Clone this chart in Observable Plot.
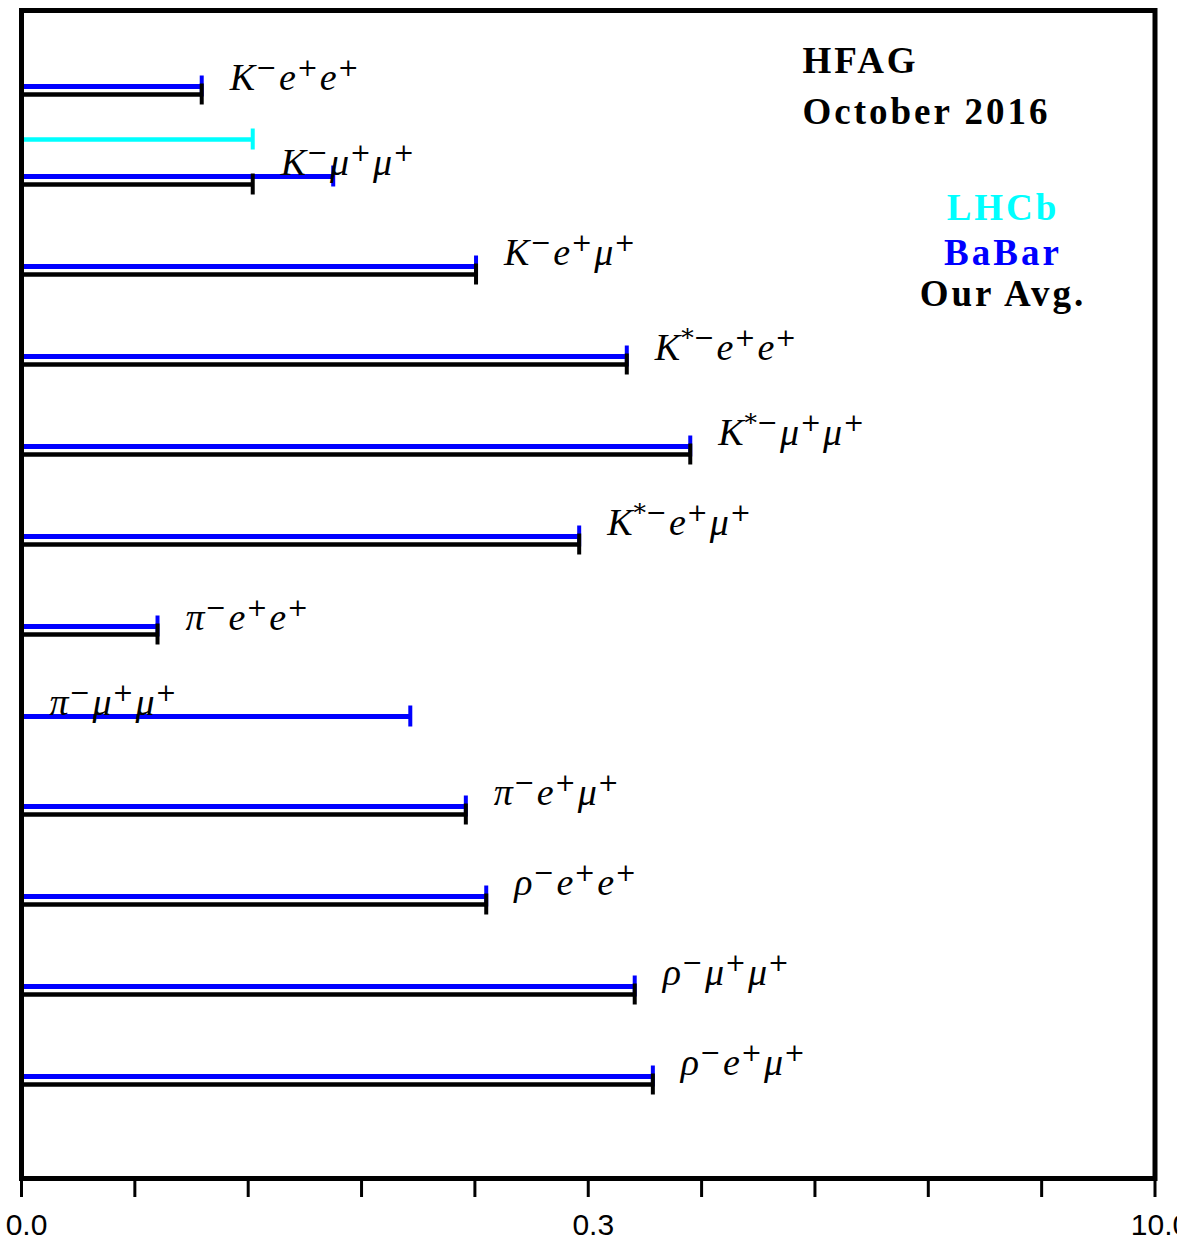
<!DOCTYPE html>
<html><head><meta charset="utf-8">
<script src="https://cdn.jsdelivr.net/npm/d3@7"></script>
<script src="https://cdn.jsdelivr.net/npm/@observablehq/plot@0.6"></script>
<style>
html,body{margin:0;padding:0;background:#fff;overflow:hidden}
</style>
</head><body><div id="chart"></div>
<script>
// ---- data ----
const decays = [
  "K^{\u2212}e^{+}e^{+}",
  "K^{\u2212}\u03bc^{+}\u03bc^{+}",
  "K^{\u2212}e^{+}\u03bc^{+}",
  "K^{*\u2212}e^{+}e^{+}",
  "K^{*\u2212}\u03bc^{+}\u03bc^{+}",
  "K^{*\u2212}e^{+}\u03bc^{+}",
  "\u03c0^{\u2212}e^{+}e^{+}",
  "\u03c0^{\u2212}\u03bc^{+}\u03bc^{+}",
  "\u03c0^{\u2212}e^{+}\u03bc^{+}",
  "\u03c1^{\u2212}e^{+}e^{+}",
  "\u03c1^{\u2212}\u03bc^{+}\u03bc^{+}",
  "\u03c1^{\u2212}e^{+}\u03bc^{+}"
];
const lhcb    = [null, 2.04, null, null, null, null, null, 0.0, null, null, null, null];
const babar   = [1.59, 2.75, 4.01, 5.34, 5.90, 4.92, 1.20, 3.43, 3.92, 4.10, 5.41, 5.57];
const average = [1.59, 2.04, 4.01, 5.34, 5.90, 4.92, 1.20, 0.0, 3.92, 4.10, 5.41, 5.57];
const xTicks = [0, 1, 2, 3, 4, 5, 6, 7, 8, 9, 10];
const xTickLabels = ["0.0", "", "", "", "", "0.3", "", "", "", "", "10.0"];
const titleLines = ["HFAG", "October 2016"];
const legendNames = ["LHCb", "BaBar", "Our Avg."];
const legendColors = ["#00ffff", "#0000ff", "#000000"];

// ---- build ----
const rows = decays.map((d, i) => ({decay: d, lhcb: lhcb[i], babar: babar[i], avg: average[i]}));
const lhcbRows = rows.filter(d => d.lhcb != null);
const descender = /[\u03bc\u03c1]/;
const serif = "Liberation Serif";

function series(data, key, color, dy, w) {
  return [
    Plot.ruleY(data, {y: "decay", x1: 0, x2: key, dy, stroke: color, strokeWidth: w}),
    Plot.tickX(data, {x: key, y: "decay", dy, insetTop: 34.5, insetBottom: 34.5, stroke: color, strokeWidth: 4})
  ];
}

const labelOpts = {x: "avg", y: "decay", text: "decay", dx: 26, textAnchor: "start", lineAnchor: "bottom",
  fontSize: 38, fontFamily: serif, fontStyle: "italic", fill: "black"};

const chart = Plot.plot({
  width: 1177, height: 1243,
  marginLeft: 21, marginRight: 22.5, marginTop: 10, marginBottom: 65,
  style: {fontFamily: "Liberation Sans", fontSize: "30px", background: "white", color: "black"},
  x: {domain: [0, 10], axis: null},
  y: {type: "band", domain: decays, range: [41.2, 1129], padding: 0, axis: null},
  marks: [
    ...series(lhcbRows, "lhcb", legendColors[0], -41, 4.5),
    ...series(rows, "babar", legendColors[1], -4, 5),
    ...series(rows, "avg", legendColors[2], 4, 4.5),
    Plot.text(rows.filter(d => !descender.test(d.decay)), {...labelOpts, dy: -1}),
    Plot.text(rows.filter(d => descender.test(d.decay)), {...labelOpts, dy: -6}),
    Plot.axisX({ticks: xTicks, tickFormat: () => "", tickSize: 19, strokeWidth: 3, stroke: "black"}),
    Plot.axisX({ticks: xTicks, tickFormat: d => xTickLabels[xTicks.indexOf(d)], tickSize: 0, tickPadding: 35,
      fontSize: 30, fontFamily: "Liberation Sans", fill: "black", dx: 5}),
    Plot.frame({stroke: "black", strokeWidth: 5}),
    Plot.text([titleLines[0]], {text: d => d, frameAnchor: "top-left", dx: 781, dy: 62, textAnchor: "start",
      lineAnchor: "bottom", fontSize: 37, fontWeight: "bold", fontFamily: serif, fill: "black"}),
    Plot.text([titleLines[1]], {text: d => d, frameAnchor: "top-left", dx: 781, dy: 113, textAnchor: "start",
      lineAnchor: "bottom", fontSize: 37, fontWeight: "bold", fontFamily: serif, fill: "black"}),
    ...legendNames.map((name, i) => Plot.text([name], {text: d => d, frameAnchor: "top-right",
      dx: -152, dy: [209, 254, 295][i], textAnchor: "middle", lineAnchor: "bottom",
      fontSize: 37, fontWeight: "bold", fontFamily: serif, fill: legendColors[i]}))
  ]
});

// superscripts as tspans
const svgns = "http://www.w3.org/2000/svg";
chart.querySelectorAll("text").forEach(el => {
  const s = el.textContent;
  if (!s.includes("^{")) return;
  const re = /\^\{([^}]*)\}/g;
  const parts = [];
  let last = 0, m;
  while ((m = re.exec(s))) {
    if (m.index > last) parts.push({t: s.slice(last, m.index), sup: false});
    parts.push({t: m[1], sup: true});
    last = re.lastIndex;
  }
  if (last < s.length) parts.push({t: s.slice(last), sup: false});
  el.textContent = "";
  let up = false;
  for (const p of parts) {
    const ts = document.createElementNS(svgns, "tspan");
    ts.textContent = p.t;
    if (p.sup) {
      ts.setAttribute("font-size", "25");
      ts.setAttribute("font-style", "normal");
      ts.setAttribute("font-family", "DejaVu Serif");
      ts.setAttribute("dx", "1");
      if (!up) { ts.setAttribute("dy", "-14"); up = true; }
    } else {
      ts.setAttribute("dx", "2");
      if (up) { ts.setAttribute("dy", "14"); up = false; }
    }
    el.appendChild(ts);
  }
});
chart.querySelectorAll('g[font-weight="bold"] text').forEach(el => el.setAttribute("letter-spacing", "3"));

document.getElementById("chart").appendChild(chart);
</script>
</body></html>
